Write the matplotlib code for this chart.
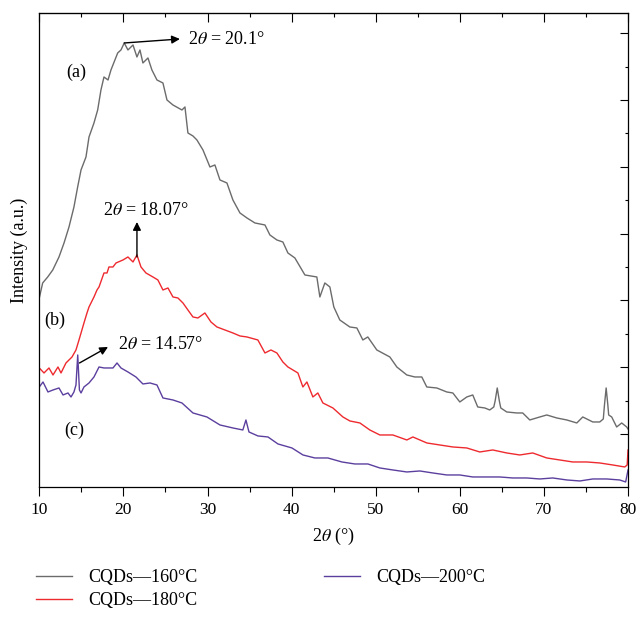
import numpy as np
import matplotlib
matplotlib.use('Agg')
from matplotlib import pyplot as plt

plt.rcParams['font.family'] = ['Liberation Serif', 'DejaVu Serif']
plt.rcParams['mathtext.fontset'] = 'stix'

# 2theta values (deg) and intensity (a.u.)
x_160 = [10.0, 10.4, 11.0, 11.6, 12.34, 12.94, 13.53, 14.12, 14.56, 14.96, 15.55, 15.91,
         16.5, 16.94, 17.33, 17.69, 18.17, 18.52, 19.32, 19.71, 20.1, 20.54, 21.14, 21.61,
         21.97, 22.32, 22.92, 23.39, 23.99, 24.7, 25.18, 25.89, 26.96, 27.32, 27.67, 28.27,
         28.74, 29.46, 30.29, 30.88, 31.48, 32.31, 33.02, 33.86, 34.69, 35.64, 36.83, 37.42,
         38.25, 38.96, 39.56, 40.39, 41.58, 43.0, 43.36, 43.95, 44.55, 45.02, 45.73, 46.92,
         47.76, 48.47, 49.06, 50.13, 51.68, 52.51, 53.7, 54.65, 55.48, 56.07, 57.26, 58.45,
         59.17, 60.0, 60.83, 61.54, 62.13, 62.97, 63.56, 64.04, 64.2, 64.45, 64.7, 64.87,
         65.58, 66.77, 67.48, 68.32, 69.51, 70.34, 71.53, 72.72, 73.91, 74.62, 75.81, 76.64,
         77.06, 77.2, 77.4, 77.6, 77.7, 78.06, 78.65, 79.25, 79.84, 80.0]
y_160 = [189, 204, 210, 217, 230, 244, 260, 280, 300, 317, 330, 350,
         364, 377, 397, 410, 407, 417, 434, 437, 444, 437, 442, 430,
         437, 424, 429, 417, 407, 404, 387, 382, 377, 380, 354, 351,
         347, 337, 320, 322, 307, 304, 287, 274, 269, 264, 262, 252,
         247, 245, 234, 229, 212, 210, 190, 204, 200, 180, 167, 160,
         159, 147, 150, 137, 130, 120, 112, 110, 110, 100, 99, 95,
         94, 85, 90, 92, 80, 79, 77, 80, 86, 99, 86, 79,
         75, 74, 74, 67, 70, 72, 69, 67, 64, 70, 65, 65,
         68, 82, 99, 82, 72, 70, 60, 64, 60, 58]

x_180 = [10.0, 10.56, 11.15, 11.63, 12.22, 12.58, 13.17, 13.89, 14.36, 14.72, 15.31, 15.67,
         15.91, 16.5, 16.86, 17.1, 17.69, 18.05, 18.28, 18.76, 19.12, 19.95, 20.54, 21.14,
         21.61, 22.09, 22.68, 23.51, 24.1, 24.7, 25.3, 25.89, 26.48, 27.08, 27.67, 28.27,
         28.86, 29.69, 30.41, 31.12, 32.07, 33.02, 33.86, 34.69, 35.99, 36.83, 37.54, 38.25,
         38.96, 39.56, 40.75, 41.34, 41.82, 42.53, 43.12, 43.72, 44.91, 46.1, 46.93, 48.12,
         49.3, 50.49, 52.04, 53.7, 54.42, 56.08, 57.62, 59.17, 60.83, 62.37, 63.92, 65.58,
         67.13, 68.67, 70.34, 71.88, 73.43, 75.09, 76.64, 78.18, 79.61, 79.9, 80.0]
y_180 = [119, 114, 119, 112, 120, 114, 124, 130, 137, 147, 164, 174,
         180, 190, 197, 200, 214, 214, 220, 220, 224, 227, 230, 225,
         232, 220, 214, 210, 207, 197, 199, 190, 189, 184, 177, 170,
         169, 174, 165, 160, 157, 154, 151, 150, 147, 134, 137, 134,
         125, 120, 114, 100, 105, 90, 94, 84, 79, 70, 66, 64,
         57, 52, 52, 47, 50, 44, 42, 40, 39, 35, 37, 34,
         32, 34, 29, 27, 25, 25, 24, 22, 20, 22, 37]

x_200 = [10.0, 10.44, 11.03, 11.63, 12.34, 12.82, 13.41, 13.77, 14.12, 14.36, 14.57, 14.77,
         14.96, 15.31, 15.91, 16.5, 17.1, 17.69, 18.28, 18.76, 19.24, 19.71, 20.54, 21.49,
         22.32, 23.16, 23.99, 24.7, 25.89, 26.96, 28.27, 29.93, 31.48, 33.02, 34.2, 34.57,
         34.93, 36.0, 37.19, 38.38, 40.04, 41.35, 42.77, 44.31, 45.98, 47.52, 49.07, 50.49,
         52.04, 53.7, 55.25, 56.79, 58.45, 60.0, 61.54, 63.21, 64.75, 66.29, 67.96, 69.51,
         71.05, 72.72, 74.27, 75.81, 77.47, 79.01, 79.72, 80.0]
y_200 = [100, 105, 95, 97, 99, 92, 94, 90, 95, 102, 132, 97,
         94, 100, 104, 110, 120, 119, 119, 119, 124, 119, 115, 110,
         103, 104, 102, 89, 87, 84, 74, 70, 62, 59, 57, 67,
         55, 51, 50, 43, 39, 32, 29, 29, 25, 23, 23, 19,
         17, 15, 16, 14, 12, 12, 10, 10, 10, 9, 9, 8,
         9, 7, 6, 8, 8, 7, 5, 17]

labels = ['CQDs\u2014160\u00b0C', 'CQDs\u2014180\u00b0C', 'CQDs\u2014200\u00b0C']
colors = ['#6b6b6b', '#ee2a2f', '#5b3f9e']

fig = plt.figure(figsize=(6.37, 6.24), dpi=100)
ax = fig.add_axes([0.0617, 0.2196, 0.9242, 0.7596])

ax.plot(x_160, y_160, color=colors[0], lw=1.0, label=labels[0])
ax.plot(x_180, y_180, color=colors[1], lw=1.0, label=labels[1])
ax.plot(x_200, y_200, color=colors[2], lw=1.0, label=labels[2])

ax.set_xlim(10, 80)
ax.set_ylim(0, 474)

ax.set_xticks(np.arange(10, 81, 10))
ax.set_xticks(np.arange(15, 80, 10), minor=True)
ax.tick_params(axis='x', which='major', direction='out', length=6.5, width=0.8,
               labelsize=12.5, pad=4)
ax.tick_params(axis='x', which='minor', direction='out', length=3.5, width=0.8)

top = ax.secondary_xaxis('top')
top.set_xticks(np.arange(10, 81, 10))
top.set_xticks(np.arange(15, 80, 10), minor=True)
top.tick_params(axis='x', which='major', direction='in', length=6.5, width=0.8, labeltop=False)
top.tick_params(axis='x', which='minor', direction='in', length=3, width=0.8)

ax.set_yticks(np.arange(53, 474, 66.8))
ax.set_yticks(np.arange(86.4, 474, 66.8), minor=True)
ax.tick_params(axis='y', which='both', left=False, right=True, labelleft=False,
               direction='in', width=0.8)
ax.tick_params(axis='y', which='major', length=6)
ax.tick_params(axis='y', which='minor', length=2.5)

for sp in ax.spines.values():
    sp.set_linewidth(0.9)

ax.set_xlabel('2$\\theta$ (\u00b0)', fontsize=13, labelpad=6)
ax.set_ylabel('Intensity (a.u.)', fontsize=13, labelpad=8)

# curve labels and peak annotations
ax.text(14.36, 415, '(a)', fontsize=13, ha='center', va='center')
ax.text(11.87, 167, '(b)', fontsize=13, ha='center', va='center')
ax.text(14.12, 57, '(c)', fontsize=13, ha='center', va='center')

arrow = dict(arrowstyle='-|>', color='black', lw=1.0, mutation_scale=12, shrinkA=0, shrinkB=0)
ax.annotate('', xy=(26.72, 448), xytext=(20.1, 444), arrowprops=arrow)
ax.text(27.67, 447, '2$\\theta$ = 20.1\u00b0', fontsize=13, ha='left', va='center')
ax.annotate('', xy=(21.61, 265), xytext=(21.61, 230), arrowprops=arrow)
ax.text(22.68, 276, '2$\\theta$ = 18.07\u00b0', fontsize=13, ha='center', va='center')
ax.annotate('', xy=(18.17, 140), xytext=(14.78, 124), arrowprops=arrow)
ax.text(19.35, 142, '2$\\theta$ = 14.57\u00b0', fontsize=13, ha='left', va='center')

fig.legend(loc='upper left', bbox_to_anchor=(0.045, 0.1), ncol=2, frameon=False,
           fontsize=13, handlelength=2.0, handletextpad=0.9, columnspacing=7.0,
           labelspacing=0.35, borderaxespad=0)

fig.savefig('out.png', dpi=100)
